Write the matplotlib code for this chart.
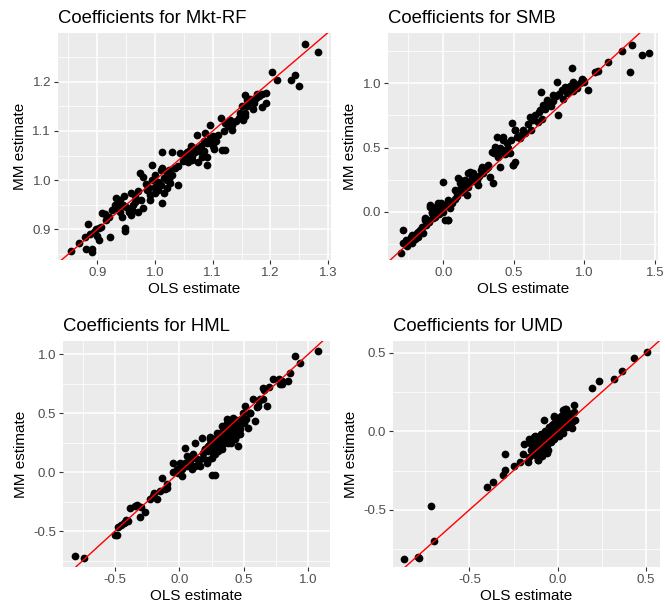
import matplotlib
matplotlib.use("Agg")
import matplotlib.pyplot as plt

plt.rcParams['font.family'] = ['Liberation Sans', 'DejaVu Sans']

titles = ["Coefficients for Mkt-RF", "Coefficients for SMB", "Coefficients for HML", "Coefficients for UMD"]
x_label = "OLS estimate"
y_label = "MM estimate"

mkt_points = [
    (0.854,0.857),(0.868,0.872),(0.880,0.860),(0.891,0.860),(0.891,0.855),(0.884,0.911),(0.894,0.895),
    (0.903,0.904),(0.906,0.906),(0.900,0.886),(0.903,0.878),(0.922,0.884),(0.909,0.933),(0.914,0.931),
    (0.932,0.964),(0.940,0.960),(0.946,0.967),(0.935,0.943),(0.943,0.926),(0.948,0.904),(0.948,0.897),
    (0.958,0.974),(0.966,0.968),(0.961,0.940),(0.970,0.936),(0.979,0.943),(0.958,0.929),(0.974,1.014),
    (0.980,1.007),(0.986,0.980),(0.991,0.970),(0.991,0.960),(0.995,1.031),(1.000,0.987),(1.006,0.997),
    (1.012,1.024),(1.013,0.953),(1.023,1.014),(1.020,1.001),(1.026,0.994),(1.012,1.058),(1.029,1.058),
    (1.043,1.056),(1.040,0.991),(1.040,1.028),(1.052,1.048),(1.058,1.038),(1.069,1.058),(1.072,1.092),
    (1.075,1.038),(1.081,1.048),(1.090,1.048),(1.091,1.031),(1.087,1.095),(1.095,1.112),(1.098,1.074),
    (1.103,1.064),(1.117,1.061),(1.121,1.061),(1.115,1.126),(1.121,1.116),(1.133,1.112),(1.133,1.102),
    (1.147,1.136),(1.156,1.136),(1.153,1.122),(1.156,1.173),(1.159,1.163),(1.171,1.156),(1.176,1.176),
    (1.192,1.178),(1.192,1.156),(1.186,1.149),(1.203,1.220),(1.211,1.203),(1.236,1.203),(1.242,1.213),
    (1.250,1.191),(1.260,1.276),(1.282,1.261),
    (0.925,0.940),(0.930,0.950),(0.936,0.955),(0.945,0.950),(0.950,0.945),(0.955,0.935),(0.962,0.950),
    (0.966,0.955),(0.975,0.960),(0.920,0.925),(0.940,0.935),(0.916,0.920),(0.898,0.900),(0.888,0.890),
    (0.878,0.885),(0.990,0.985),(0.995,1.000),(1.000,1.010),(1.005,0.980),(1.010,0.990),(1.015,1.005),
    (1.020,1.015),(1.025,1.020),(1.030,1.010),(1.035,1.025),(1.010,1.020),(1.000,0.975),(0.985,0.992),
    (1.020,0.985),(1.025,1.002),(1.016,0.975),(0.970,0.978),(1.050,1.052),(1.055,1.058),(1.060,1.062),
    (1.065,1.050),(1.070,1.066),(1.076,1.060),(1.080,1.070),(1.085,1.080),(1.090,1.075),(1.095,1.085),
    (1.100,1.090),(1.085,1.060),(1.065,1.042),(1.100,1.070),(1.105,1.080),(1.110,1.092),(1.062,1.070),
    (1.048,1.040),(1.120,1.100),(1.126,1.110),(1.140,1.120),(1.145,1.126),(1.150,1.150),(1.160,1.150),
    (1.165,1.165),(1.175,1.166),(1.180,1.171),(1.185,1.176),(1.170,1.145),(1.156,1.130),(1.130,1.122),
    (1.165,1.158),
]

smb_points = [
    (-0.30,-0.32),(-0.288,-0.143),(-0.284,-0.247),(-0.26,-0.27),(-0.236,-0.22),(-0.225,-0.18),(-0.20,-0.21),
    (-0.189,-0.169),(-0.165,-0.143),(-0.142,-0.169),(-0.130,-0.052),(-0.106,-0.065),(-0.095,0.052),
    (-0.083,-0.013),(-0.059,-0.039),(-0.047,0.013),(-0.035,0.065),(-0.012,0.026),(0.0,0.234),(0.012,-0.065),
    (0.035,-0.065),(0.035,0.091),(0.059,0.065),(0.095,0.143),(0.106,0.26),(0.118,0.221),(0.13,0.156),
    (0.154,0.247),(0.165,0.13),(0.177,0.195),(0.189,0.312),(0.213,0.299),(0.236,0.247),(0.248,0.208),
    (0.272,0.351),(0.284,0.299),(0.319,0.364),(0.331,0.273),(0.343,0.468),(0.355,0.221),(0.366,0.506),
    (0.378,0.584),(0.39,0.429),(0.402,0.351),(0.426,0.584),(0.449,0.532),(0.473,0.455),(0.485,0.688),
    (0.492,0.364),(0.508,0.636),(0.508,0.39),(0.544,0.571),(0.567,0.636),(0.615,0.74),(0.638,0.714),
    (0.674,0.701),(0.686,0.792),(0.690,0.935),(0.709,0.831),(0.733,0.870),(0.757,0.844),(0.780,0.909),
    (0.804,1.013),(0.816,0.753),(0.839,0.948),(0.863,0.974),(0.875,0.922),(0.910,1.117),(0.922,1.013),
    (0.946,0.961),(0.969,1.0),(0.993,1.026),(1.028,0.948),(1.076,1.091),(1.099,1.099),(1.17,1.169),
    (1.265,1.252),(1.324,1.091),(1.336,1.299),(1.407,1.221),(1.454,1.234),
    (-0.262,-0.22),(-0.227,-0.195),(-0.179,-0.156),(-0.132,-0.065),(-0.096,0.039),(-0.061,-0.026),
    (-0.014,0.065),(0.033,-0.065),(0.08,0.169),(0.116,0.247),(0.175,0.299),(0.222,0.273),(0.269,0.325),
    (0.317,0.351),(0.387,0.455),(0.423,0.558),(0.506,0.636),(0.494,0.364),(0.576,0.61),
    (-0.27,-0.25),(-0.25,-0.23),(-0.22,-0.24),(-0.21,-0.19),(-0.18,-0.2),(-0.17,-0.17),(-0.15,-0.12),
    (-0.12,-0.1),(-0.1,-0.08),(-0.08,0.0),(-0.07,-0.05),(-0.05,0.04),(-0.03,-0.02),(0.0,0.0),(0.02,0.05),
    (0.05,0.03),(0.08,0.1),(0.1,0.12),(0.12,0.18),(0.14,0.2),(0.15,0.16),(0.18,0.22),(0.2,0.26),
    (0.22,0.24),(0.25,0.28),(0.3,0.33),(0.36,0.46),(0.4,0.5),(0.42,0.48),(0.44,0.45),(0.46,0.5),
    (0.48,0.56),(0.52,0.58),(0.55,0.6),(0.6,0.68),(0.65,0.75),(0.68,0.78),(0.7,0.72),(0.72,0.8),
    (0.74,0.84),(0.76,0.82),(0.78,0.86),(0.8,0.9),(0.82,0.92),(0.85,0.88),(0.88,0.96),(0.9,0.98),
    (0.92,0.94),(0.95,0.99),(0.98,1.03),(1.0,1.01),(0.62,0.64),
]

hml_points = [
    (-0.81,-0.714),(-0.737,-0.728),(-0.499,-0.53),(-0.481,-0.535),(-0.473,-0.467),(-0.434,-0.43),
    (-0.414,-0.402),(-0.396,-0.416),(-0.383,-0.303),(-0.344,-0.289),(-0.331,-0.275),(-0.305,-0.38),
    (-0.266,-0.337),(-0.228,-0.232),(-0.202,-0.204),(-0.176,-0.232),(-0.150,-0.161),(-0.137,-0.048),
    (-0.111,-0.147),(-0.098,-0.133),(-0.047,0.079),(-0.021,0.023),(-0.008,-0.006),(0.005,0.079),
    (0.018,-0.034),(0.044,0.207),(0.057,0.136),(0.083,0.065),(0.096,0.023),(0.109,0.15),(0.122,0.249),
    (0.134,0.108),(0.16,0.051),(0.173,0.292),(0.186,0.164),(0.199,0.193),(0.212,0.079),(0.225,0.221),
    (0.238,0.278),(0.251,-0.02),(0.277,-0.02),(0.264,0.164),(0.29,0.334),(0.303,0.221),(0.315,0.278),
    (0.328,0.391),(0.341,0.306),(0.367,0.448),(0.38,0.249),(0.393,0.348),(0.419,0.462),(0.432,0.278),
    (0.445,0.377),(0.458,0.221),(0.471,0.363),(0.496,0.504),(0.509,0.561),(0.535,0.377),(0.548,0.504),
    (0.574,0.618),(0.587,0.433),(0.612,0.561),(0.625,0.618),(0.651,0.717),(0.677,0.561),(0.729,0.788),
    (0.781,0.745),(0.794,0.773),(0.846,0.773),(0.859,0.844),(0.897,0.986),(0.936,0.929),(1.078,1.028),
    (0.2,0.2),(0.22,0.18),(0.24,0.24),(0.26,0.22),(0.27,0.28),(0.28,0.25),(0.3,0.3),(0.31,0.26),
    (0.32,0.33),(0.33,0.29),(0.34,0.36),(0.35,0.31),(0.36,0.38),(0.37,0.33),(0.38,0.4),(0.39,0.3),
    (0.4,0.41),(0.41,0.36),(0.42,0.42),(0.43,0.33),(0.44,0.44),(0.45,0.4),(0.46,0.43),(0.47,0.32),
    (0.48,0.45),(0.5,0.42),(0.36,0.27),(0.33,0.2),(0.3,0.18),(0.28,0.15),(0.25,0.12),(0.22,0.1),
    (0.18,0.12),(0.15,0.1),(0.12,0.05),(0.1,0.12),(0.08,0.1),(0.06,0.05),(0.04,0.08),(0.02,0.03),
    (0.24,0.3),(0.34,0.24),(0.4,0.25),(0.44,0.36),(0.52,0.45),(0.55,0.5),(0.6,0.55),(0.62,0.6),
    (0.65,0.62),(0.66,0.7),(-0.3,-0.3),(-0.45,-0.45),(-0.42,-0.42),(-0.2,-0.18),(-0.1,-0.1),(-0.05,0.0),
    (0.7,0.72),(0.8,0.75),(0.77,0.79),
    (0.29,0.27),(0.35,0.35),(0.38,0.36),(0.41,0.39),(0.43,0.4),(0.46,0.38),(0.31,0.32),(0.26,0.26),
    (0.37,0.42),(0.44,0.31),
]

umd_points = [
    (-0.868,-0.809),(-0.792,-0.799),(-0.787,-0.803),(-0.717,-0.475),(-0.698,-0.697),(-0.402,-0.354),
    (-0.368,-0.322),(-0.311,-0.28),(-0.296,-0.244),(-0.296,-0.142),(-0.245,-0.22),(-0.213,-0.195),
    (-0.198,-0.142),(-0.189,-0.078),(-0.17,-0.195),(-0.16,-0.163),(-0.151,-0.078),(-0.142,-0.131),
    (-0.132,-0.036),(-0.123,-0.1),(-0.113,-0.184),(-0.104,-0.142),(-0.094,-0.015),(-0.085,-0.057),
    (-0.075,0.074),(-0.066,-0.078),(-0.057,-0.121),(-0.047,0.028),(-0.038,-0.015),(-0.028,0.049),
    (-0.019,0.091),(-0.009,0.006),(0.009,0.07),(0.028,0.133),(0.038,0.028),(0.047,0.144),(0.057,0.091),
    (0.066,0.049),(0.075,0.112),(0.094,0.165),(0.194,0.275),(0.236,0.32),(0.321,0.333),(0.364,0.381),
    (0.434,0.468),(0.506,0.504),
    (-0.15,-0.12),(-0.14,-0.08),(-0.13,-0.15),(-0.12,-0.06),(-0.11,-0.11),(-0.1,-0.08),(-0.1,-0.03),
    (-0.09,-0.1),(-0.08,-0.04),(-0.08,-0.13),(-0.07,-0.06),(-0.07,0.0),(-0.06,-0.09),(-0.06,-0.03),
    (-0.05,-0.05),(-0.05,0.02),(-0.04,-0.07),(-0.04,0.0),(-0.03,-0.03),(-0.03,0.04),(-0.02,-0.05),
    (-0.02,0.02),(-0.01,0.06),(-0.01,-0.02),(0.0,0.0),(0.0,0.04),(0.01,-0.03),(0.01,0.08),(0.02,0.02),
    (0.02,0.1),(0.03,0.05),(0.03,-0.01),(0.04,0.08),(0.05,0.03),(0.05,0.12),(0.06,0.06),(0.07,0.09),
    (0.08,0.06),(0.08,0.02),(-0.16,-0.05),(-0.13,-0.03),(-0.11,-0.18),(-0.09,-0.16),(-0.12,-0.12),
    (-0.06,-0.14),(0.09,0.12),(0.04,0.14),(-0.02,0.1),(0.1,0.07),
]

mkt_xticks = [0.9, 1.0, 1.1, 1.2, 1.3]
mkt_xlabels = ["0.9", "1.0", "1.1", "1.2", "1.3"]
mkt_yticks = [0.9, 1.0, 1.1, 1.2]
mkt_ylabels = ["0.9", "1.0", "1.1", "1.2"]
smb_xticks = [0.0, 0.5, 1.0, 1.5]
smb_xlabels = ["0.0", "0.5", "1.0", "1.5"]
smb_yticks = [0.0, 0.5, 1.0]
smb_ylabels = ["0.0", "0.5", "1.0"]
hml_xticks = [-0.5, 0.0, 0.5, 1.0]
hml_xlabels = ["-0.5", "0.0", "0.5", "1.0"]
hml_yticks = [-0.5, 0.0, 0.5, 1.0]
hml_ylabels = ["-0.5", "0.0", "0.5", "1.0"]
umd_xticks = [-0.5, 0.0, 0.5]
umd_xlabels = ["-0.5", "0.0", "0.5"]
umd_yticks = [-0.5, 0.0, 0.5]
umd_ylabels = ["-0.5", "0.0", "0.5"]

W, H = 665, 607
fig = plt.figure(figsize=(W / 100, H / 100), dpi=100)
fig.patch.set_facecolor("white")

# panel boxes in pixels: left, right, top, bottom
boxes = [(58, 331, 33, 260), (388, 658, 33, 260), (63, 330, 341, 567), (393, 660, 341, 567)]
limits = [((0.832, 1.305), (0.838, 1.299)),
          ((-0.392, 1.521), (-0.376, 1.392)),
          ((-0.904, 1.17), (-0.805, 1.113)),
          ((-0.932, 0.579), (-0.863, 0.574))]
panels = [
    (mkt_points, mkt_xticks, mkt_xlabels, mkt_yticks, mkt_ylabels),
    (smb_points, smb_xticks, smb_xlabels, smb_yticks, smb_ylabels),
    (hml_points, hml_xticks, hml_xlabels, hml_yticks, hml_ylabels),
    (umd_points, umd_xticks, umd_xlabels, umd_yticks, umd_ylabels),
]

def minors(ticks, lo, hi):
    step = ticks[1] - ticks[0]
    out = []
    t = ticks[0] - step / 2
    while t <= hi:
        if t >= lo:
            out.append(t)
        t += step
    return out

for i, (pts, xt, xl, yt, yl) in enumerate(panels):
    l, r, t, b = boxes[i]
    ax = fig.add_axes([l / W, 1 - b / H, (r - l) / W, (b - t) / H])
    ax.set_facecolor("#EBEBEB")
    (x0, x1), (y0, y1) = limits[i]
    ax.set_xlim(x0, x1)
    ax.set_ylim(y0, y1)
    for m in minors(xt, x0, x1):
        ax.axvline(m, color="white", lw=0.55, zorder=0.5)
    for m in minors(yt, y0, y1):
        ax.axhline(m, color="white", lw=0.55, zorder=0.5)
    for v in xt:
        ax.axvline(v, color="white", lw=1.1, zorder=0.6)
    for v in yt:
        ax.axhline(v, color="white", lw=1.1, zorder=0.6)
    xs = [p[0] for p in pts]
    ys = [p[1] for p in pts]
    ax.scatter(xs, ys, s=31, color="black", linewidths=0, zorder=2)
    ax.axline((0, 0), slope=1, color="#FF0000", lw=1.0, zorder=3)
    ax.set_xticks(xt)
    ax.set_xticklabels(xl)
    ax.set_yticks(yt)
    ax.set_yticklabels(yl)
    ax.tick_params(axis="both", colors="#333333", labelcolor="#4D4D4D", labelsize=9.5,
                   length=3, width=0.8, pad=2)
    for s in ax.spines.values():
        s.set_visible(False)
    ax.set_xlabel(x_label, fontsize=11, color="black", labelpad=2)
    ax.set_ylabel(y_label, fontsize=11, color="black", labelpad=4)
    ax.set_title(titles[i], loc="left", fontsize=13.3, color="black", pad=7)

fig.savefig("out.png", dpi=100, facecolor="white")
